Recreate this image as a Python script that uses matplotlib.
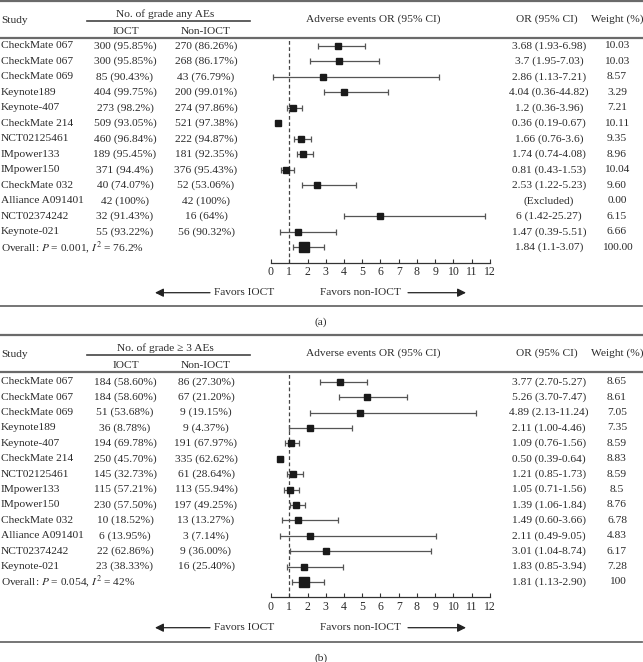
import numpy as np
import matplotlib
matplotlib.use("Agg")
import matplotlib.pyplot as plt
from matplotlib.transforms import blended_transform_factory
from matplotlib.lines import Line2D

plt.rcParams['font.family'] = ['Liberation Serif', 'DejaVu Serif']
plt.rcParams['mathtext.fontset'] = 'stix'

W, H = 643, 662
FS = 8.2
TXT = '#2a2a2a'
LINE = '#6a6a6a'

studies = ["CheckMate 067", "CheckMate 067", "CheckMate 069", "Keynote189", "Keynote-407",
           "CheckMate 214", "NCT02125461", "IMpower133", "IMpower150", "CheckMate 032",
           "Alliance A091401", "NCT02374242", "Keynote-021"]

# ---- panel (a): any-grade AEs ----
a_ioct = ["300 (95.85%)", "300 (95.85%)", "85 (90.43%)", "404 (99.75%)", "273 (98.2%)",
          "509 (93.05%)", "460 (96.84%)", "189 (95.45%)", "371 (94.4%)", "40 (74.07%)",
          "42 (100%)", "32 (91.43%)", "55 (93.22%)"]
a_non = ["270 (86.26%)", "268 (86.17%)", "43 (76.79%)", "200 (99.01%)", "274 (97.86%)",
         "521 (97.38%)", "222 (94.87%)", "181 (92.35%)", "376 (95.43%)", "52 (53.06%)",
         "42 (100%)", "16 (64%)", "56 (90.32%)"]
a_or_text = ["3.68 (1.93-6.98)", "3.7 (1.95-7.03)", "2.86 (1.13-7.21)", "4.04 (0.36-44.82)",
             "1.2 (0.36-3.96)", "0.36 (0.19-0.67)", "1.66 (0.76-3.6)", "1.74 (0.74-4.08)",
             "0.81 (0.43-1.53)", "2.53 (1.22-5.23)", "(Excluded)", "6 (1.42-25.27)",
             "1.47 (0.39-5.51)", "1.84 (1.1-3.07)"]
a_weight = ["10.03", "10.03", "8.57", "3.29", "7.21", "10.11", "9.35", "8.96", "10.04",
            "9.60", "0.00", "6.15", "6.66", "100.00"]
# positions of the drawn marks (last = overall)
a_est = [3.69, 3.73, 2.83, 4.02, 1.19, 0.37, 1.64, 1.74, 0.80, 2.50, np.nan, 5.99, 1.46, 1.81]
a_lo = [2.58, 2.14, 0.09, 2.90, 0.87, 0.37, 1.28, 1.41, 0.55, 1.68, np.nan, 4.02, 0.49, 1.19]
a_hi = [5.17, 5.90, 9.20, 6.39, 1.68, 0.37, 2.19, 2.28, 1.26, 4.66, np.nan, 11.73, 3.56, 2.90]
a_overall = "Overall: $\\mathit{P}$ = 0.001, $\\mathit{I}^2$ = 76.2%"

# ---- panel (b): grade >= 3 AEs ----
b_ioct = ["184 (58.60%)", "184 (58.60%)", "51 (53.68%)", "36 (8.78%)", "194 (69.78%)",
          "250 (45.70%)", "145 (32.73%)", "115 (57.21%)", "230 (57.50%)", "10 (18.52%)",
          "6 (13.95%)", "22 (62.86%)", "23 (38.33%)"]
b_non = ["86 (27.30%)", "67 (21.20%)", "9 (19.15%)", "9 (4.37%)", "191 (67.97%)",
         "335 (62.62%)", "61 (28.64%)", "113 (55.94%)", "197 (49.25%)", "13 (13.27%)",
         "3 (7.14%)", "9 (36.00%)", "16 (25.40%)"]
b_est = [3.77, 5.26, 4.89, 2.11, 1.09, 0.50, 1.21, 1.05, 1.39, 1.49, 2.11, 3.01, 1.83, 1.81]
b_lo = [2.70, 3.70, 2.13, 1.00, 0.76, 0.39, 0.85, 0.71, 1.06, 0.60, 0.49, 1.04, 0.85, 1.13]
b_hi = [5.27, 7.47, 11.24, 4.46, 1.56, 0.64, 1.73, 1.56, 1.84, 3.66, 9.05, 8.74, 3.94, 2.90]
b_or_text = [f"{e:.2f} ({l:.2f}-{h:.2f})" for e, l, h in zip(b_est, b_lo, b_hi)]
b_weight = ["8.65", "8.61", "7.05", "7.35", "8.59", "8.83", "8.59", "8.5", "8.76",
            "6.78", "4.83", "6.17", "7.28", "100"]
b_overall = "Overall: $\\mathit{P}$ = 0.054, $\\mathit{I}^2$ = 42%"

xticks = list(range(0, 13))

fig = plt.figure(figsize=(W / 100, H / 100), dpi=100)
fig.patch.set_facecolor('white')


def fx(px):
    return px / W


def fy(py):
    return 1 - py / H


def hline(y, x0, x1, lw=1.4, color=LINE):
    fig.add_artist(Line2D([fx(x0), fx(x1)], [fy(y), fy(y)], transform=fig.transFigure,
                          color=color, lw=lw))


def ftext(x, y, s, ha='center', va='center', **kw):
    fig.text(fx(x), fy(y), s, ha=ha, va=va, fontsize=FS, color=TXT, **kw)


def panel(top, hdr_line, row0, axis_y, bottom, group_title, ioct, non, est, lo, hi,
          or_text, weight, overall, label, arrow_y):
    n = len(est)
    spacing = (axis_y - row0) / (n + 0.0)
    # forest axes
    ax = fig.add_axes([fx(271), fy(axis_y), fx(490) - fx(271), (axis_y - hdr_line) / H])
    ax.set_xlim(0, 12)
    ymax = (row0 - hdr_line) / spacing
    ymin = -(axis_y - row0) / spacing
    ax.set_ylim(ymin, ymax)
    ax.axvline(1, color='#444444', lw=0.9, ls=(0, (3, 2)), zorder=1)
    ys = -np.arange(n)
    est = np.array(est, dtype=float)
    lo = np.array(lo, dtype=float)
    hi = np.array(hi, dtype=float)
    for i in range(n):
        if np.isnan(est[i]):
            continue
        ax.errorbar([est[i]], [ys[i]], xerr=[[est[i] - lo[i]], [hi[i] - est[i]]],
                    fmt='none', ecolor='#555555', elinewidth=0.9, capsize=2.0,
                    capthick=0.9, zorder=2)
        ms = 7.2 if i == n - 1 else 3.8
        ax.plot([est[i]], [ys[i]], marker='s', ms=ms, color='#1a1a1a', mec='#1a1a1a',
                ls='none', zorder=3)
    for s in ['top', 'right', 'left']:
        ax.spines[s].set_visible(False)
    ax.spines['bottom'].set_color('#333333')
    ax.spines['bottom'].set_linewidth(0.9)
    ax.set_yticks([])
    ax.set_xticks(xticks)
    ax.set_xticklabels([str(t) for t in xticks], fontsize=FS + 0.3, color=TXT)
    ax.tick_params(axis='x', direction='in', length=3, width=0.8, colors='#333333',
                   labelcolor=TXT, pad=2.5)
    ax.patch.set_alpha(0)

    tr = blended_transform_factory(fig.transFigure, ax.transData)
    for i in range(n - 1):
        ax.text(fx(1), ys[i], studies[i], transform=tr, ha='left', va='center',
                fontsize=FS, color=TXT)
        ax.text(fx(125), ys[i], ioct[i], transform=tr, ha='center', va='center',
                fontsize=FS, color=TXT)
        ax.text(fx(206), ys[i], non[i], transform=tr, ha='center', va='center',
                fontsize=FS, color=TXT)
    ax.text(fx(1), ys[n - 1], overall, transform=tr, ha='left', va='center',
            fontsize=FS, color=TXT)
    for i in range(n):
        ax.text(fx(549), ys[i], or_text[i], transform=tr, ha='center', va='center',
                fontsize=FS, color=TXT)
        ax.text(fx(617), ys[i], weight[i], transform=tr, ha='center', va='center',
                fontsize=FS, color=TXT)

    # rules
    hline(top, 0, W - 1, lw=1.6)
    hline(hdr_line, 0, W - 1, lw=1.6)
    hline(bottom, 0, 642, lw=1.3)
    hline(top + 19.5, 87, 250, lw=1.2, color='#444444')
    # header text
    ftext(1, top + 19.5, "Study", ha='left')
    ftext(165, top + 13, group_title)
    ftext(126, top + 30, "IOCT")
    ftext(206, top + 30, "Non-IOCT")
    ftext(373, top + 18, "Adverse events OR (95% CI)")
    ftext(547, top + 18, "OR (95% CI)")
    ftext(617, top + 18, "Weight (%)")
    # favours
    ftext(274, arrow_y, "Favors IOCT", ha='right')
    ftext(320, arrow_y, "Favors non-IOCT", ha='left')
    fig.add_artist(matplotlib.patches.FancyArrowPatch(
        (fx(210), fy(arrow_y)), (fx(155), fy(arrow_y)), transform=fig.transFigure,
        arrowstyle='-|>,head_length=5,head_width=2.5', color='#222222', lw=0.9,
        shrinkA=0, shrinkB=0))
    fig.add_artist(matplotlib.patches.FancyArrowPatch(
        (fx(408), fy(arrow_y)), (fx(466), fy(arrow_y)), transform=fig.transFigure,
        arrowstyle='-|>,head_length=5,head_width=2.5', color='#222222', lw=0.9,
        shrinkA=0, shrinkB=0))
    ftext(321, bottom + 16, label)
    return ax


panel(1, 38, 45.7, 263, 306, "No. of grade any AEs", a_ioct, a_non, a_est, a_lo, a_hi,
      a_or_text, a_weight, a_overall, "(a)", 292.7)
panel(335, 372.3, 381.7, 597.3, 641.7, "No. of grade \u2265 3 AEs", b_ioct, b_non, b_est,
      b_lo, b_hi, b_or_text, b_weight, b_overall, "(b)", 627.7)

fig.savefig("out.png", dpi=100, facecolor='white')
